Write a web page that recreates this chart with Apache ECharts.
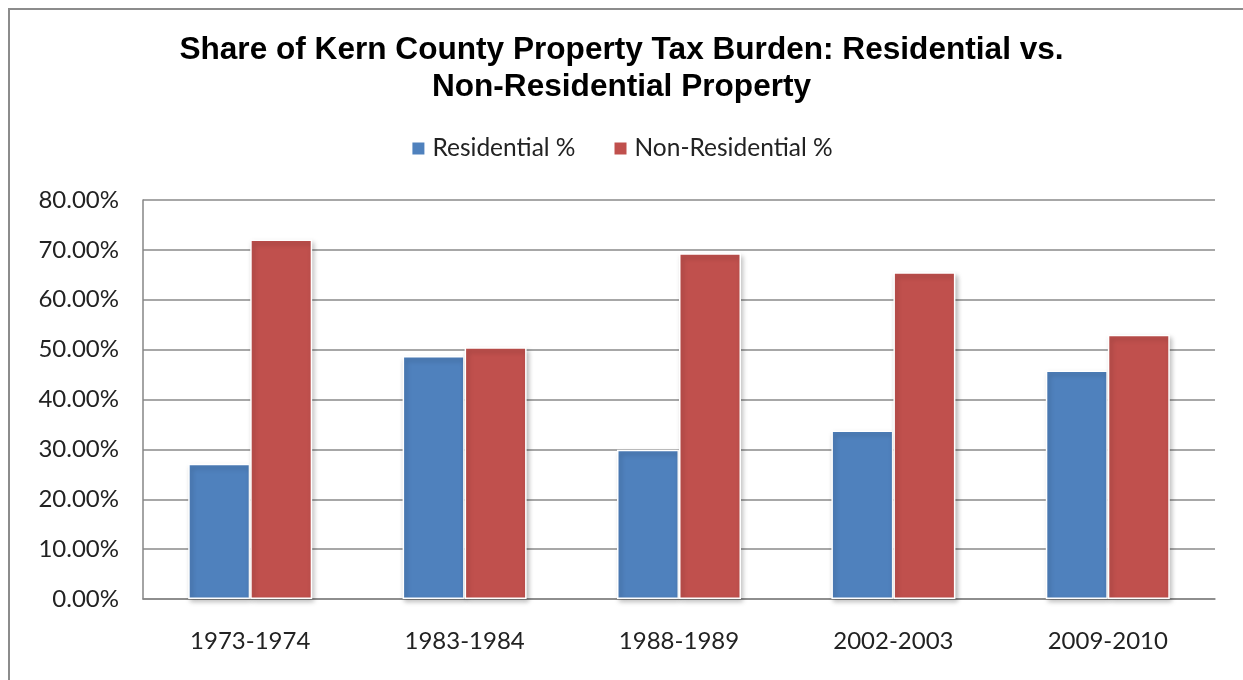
<!DOCTYPE html>
<html>
<head>
<meta charset="utf-8">
<script src="https://cdn.jsdelivr.net/npm/echarts@6/dist/echarts.min.js"></script>
<style>
  html, body { margin: 0; padding: 0; background: #fff; }
  #frame { position: absolute; left: 8px; top: 8px; width: 1250px; height: 690px; border: 2px solid #8c8c8c; box-sizing: border-box; }
  #chart { position: absolute; left: 0; top: 0; width: 1243px; height: 680px; }
</style>
</head>
<body>
<div id="frame"></div>
<div id="chart"></div>
<script>
// Fiscal years and each property class's share of the county tax burden (%)
const categories = ['1973-1974', '1983-1984', '1988-1989', '2002-2003', '2009-2010'];
const residential = [27.1, 48.7, 29.9, 33.8, 45.8];
const nonResidential = [72.1, 50.5, 69.3, 65.5, 53.0];

const chart = echarts.init(document.getElementById('chart'));
const labelFont = 'Lato, "Open Sans", sans-serif';
const barShadow = {
  borderColor: '#ffffff',
  borderWidth: 1.5,
  shadowBlur: 5,
  shadowOffsetX: 2,
  shadowOffsetY: 3,
  shadowColor: 'rgba(0,0,0,0.28)'
};

chart.setOption({
  animation: false,
  title: {
    text: 'Share of Kern County Property Tax Burden: Residential vs.\nNon-Residential Property',
    left: 'center',
    top: 27,
    textStyle: {
      fontFamily: '"Liberation Sans", Arial, sans-serif',
      fontWeight: 'bold',
      fontSize: 31.6,
      lineHeight: 37,
      color: '#000'
    }
  },
  legend: {
    top: 131,
    left: 'center',
    itemWidth: 14,
    itemHeight: 14,
    itemGap: 37,
    icon: 'rect',
    textStyle: { fontFamily: labelFont, fontSize: 24.5, color: '#222', padding: [0, 0, 0, 2] },
    data: ['Residential %', 'Non-Residential %']
  },
  grid: { left: 143, right: 28, top: 200, bottom: 81 },
  xAxis: {
    type: 'category',
    data: categories,
    axisTick: { show: false },
    axisLine: { lineStyle: { color: '#868686', width: 1.5 } },
    axisLabel: { fontFamily: labelFont, fontSize: 24, color: '#222', margin: 30 }
  },
  yAxis: {
    type: 'value',
    min: 0,
    max: 80,
    interval: 10,
    axisLine: { show: true, lineStyle: { color: '#868686', width: 1.5 } },
    axisTick: { show: false },
    splitLine: { lineStyle: { color: '#8a8a8a', width: 1.5 } },
    axisLabel: {
      fontFamily: labelFont,
      fontSize: 24,
      color: '#222',
      margin: 24,
      formatter: v => v.toFixed(2) + '%'
    }
  },
  series: [
    {
      name: 'Residential %',
      type: 'bar',
      data: residential,
      barWidth: 62,
      barGap: '0%',
      itemStyle: Object.assign({ color: '#4f81bd' }, barShadow)
    },
    {
      name: 'Non-Residential %',
      type: 'bar',
      data: nonResidential,
      barWidth: 62,
      itemStyle: Object.assign({ color: '#c0504d' }, barShadow)
    }
  ]
});
</script>
</body>
</html>
